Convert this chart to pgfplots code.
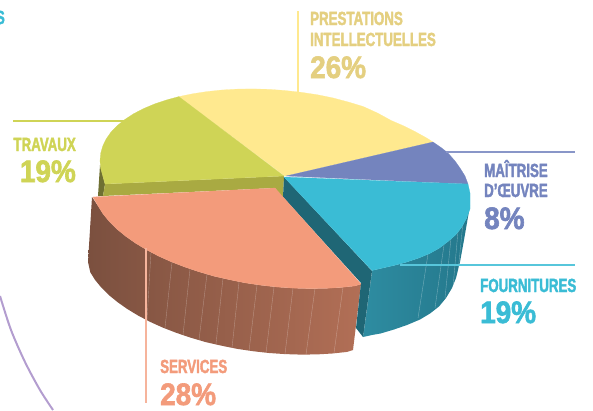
\documentclass[border=0pt]{standalone}
\usepackage{fontspec}
\usepackage{pgfplots}
\pgfplotsset{compat=1.18}
\newfontfamily\labfont[FakeStretch=0.70,FakeBold=2]{Liberation Sans Bold}
\newfontfamily\pctfont[FakeStretch=0.90,FakeBold=2]{Liberation Sans Bold}

\definecolor{cyellow}{HTML}{FFE98F}
\definecolor{cyellowtxt}{HTML}{E4CF80}
\definecolor{cgreen}{HTML}{CFD456}
\definecolor{colive}{HTML}{A9AA42}
\definecolor{colivedk}{HTML}{6F7032}
\definecolor{cblue}{HTML}{7484BE}
\definecolor{ccyan}{HTML}{3ABCD5}
\definecolor{cteal}{HTML}{1F6675}
\definecolor{csalmon}{HTML}{F39B7B}
\definecolor{cpurple}{HTML}{B39DCF}

\newcommand{\lab}[4]{\node[anchor=base #1,text=#2,inner sep=0pt,font=\labfont\fontsize{19}{19}\selectfont] at (axis cs:#3) {#4};}
\newcommand{\pct}[4]{\node[anchor=base #1,text=#2,inner sep=0pt,font=\pctfont\fontsize{31}{31}\selectfont] at (axis cs:#3) {#4};}

\begin{document}
\begin{tikzpicture}
\useasboundingbox (0,0) rectangle (593pt,410pt);
\begin{axis}[
    at={(0,0)}, anchor=south west,
    scale only axis, width=593pt, height=410pt,
    xmin=0, xmax=593, ymin=0, ymax=410,
    y dir=reverse,
    hide axis,
    clip=false,
]
% purple arc of the outer ring
\addplot[cpurple, line width=2pt, smooth] coordinates {(0,296) (11,330) (25,362) (40,390) (53,410)};

% salmon side
\addplot[draw=none, shading=axis, left color={rgb,255:red,123;green,80;blue,63}, middle color={rgb,255:red,142;green,92;blue,72}, right color={rgb,255:red,178;green,111;blue,86}] coordinates {
 (92,197) (88,262) (90.3,272.3) (95.1,280) (101.4,287.6) (108.8,295) (117.5,302.1) (127.3,309) (138.2,315.6)
 (150,321.8) (162.8,327.6) (176.5,332.9) (190.8,337.7) (205.7,342.1) (221.1,345.6) (236.8,348.8) (252.9,351.2)
 (269,353) (285.1,354.1) (301.2,354.6) (316.9,354.4) (332.3,353.5) (347.2,351.9) (353,350)
 (361,284) (355.2,285.9) (340.3,287.5) (324.9,288.4) (309.2,288.6) (293.1,288.1) (277,287) (260.9,285.2)
 (244.8,282.8) (229.1,279.6) (213.7,276.1) (198.8,271.7) (184.5,266.9) (170.8,261.6) (158,255.8) (146.2,249.6)
 (135.3,243) (125.5,236.1) (116.8,229) (109.4,221.6) (103.1,214) (98.3,206.3) (92,197)};
% stripes on salmon side
\addplot[white, opacity=0.3, line width=0.4pt] coordinates {(151,252) (147,320)};
\addplot[white, opacity=0.3, line width=0.4pt] coordinates {(172,262) (165,328)};
\addplot[white, opacity=0.3, line width=0.4pt] coordinates {(190,269) (183,335)};
\addplot[white, opacity=0.3, line width=0.4pt] coordinates {(207,274) (199,340)};
\addplot[white, opacity=0.3, line width=0.4pt] coordinates {(223,278) (216,344)};
\addplot[white, opacity=0.3, line width=0.4pt] coordinates {(239,282) (232,348)};
\addplot[white, opacity=0.3, line width=0.4pt] coordinates {(257,285) (249,351)};
\addplot[white, opacity=0.3, line width=0.4pt] coordinates {(274,287) (266,353)};
\addplot[white, opacity=0.3, line width=0.4pt] coordinates {(293,288) (285,354)};
\addplot[white, opacity=0.3, line width=0.4pt] coordinates {(315,288.5) (306,354.5)};
\addplot[white, opacity=0.3, line width=0.4pt] coordinates {(343,287) (334,353)};

% cyan side
\addplot[draw=none, shading=axis, left color={rgb,255:red,46;green,140;blue,161}, right color={rgb,255:red,36;green,120;blue,140}] coordinates {
 (372,270.5) (363,337) (372,335) (380.5,333.5) (394,329.5) (407,325) (420,319.5) (430,313.5) (439,306.5)
 (446,298) (452,288) (456,278) (460,262) (464,240) (468,217) (470,205)
 (466.5,218.3) (461.4,227.6) (455.6,234.9) (448,241.5) (439.5,248) (429.7,253.5) (418.8,258) (406.9,262)
 (394.2,265.4) (380.5,268.5) (372,270.5)};
\addplot[white, opacity=0.35, line width=0.4pt] coordinates {(428,254) (418,318)};
\addplot[white, opacity=0.35, line width=0.4pt] coordinates {(444,245) (435,308)};
\addplot[white, opacity=0.35, line width=0.4pt] coordinates {(451,238) (445,298)};
\addplot[white, opacity=0.35, line width=0.4pt] coordinates {(458,231) (453,287)};
\addplot[white, opacity=0.35, line width=0.4pt] coordinates {(463,222) (458,272)};
\addplot[white, opacity=0.35, line width=0.4pt] coordinates {(372,271) (363,337)};

% dark inner walls
\addplot[fill=colivedk, draw=none] coordinates {(100,165) (105,184) (103,196) (98,196) (100,165)};
\addplot[fill=colive, draw=none] coordinates {(105,184) (284,176) (283,198) (275,188) (103,196) (105,184)};
\addplot[fill=cteal, draw=none] coordinates {(284,177) (283,197) (361,283) (356,328) (363,337) (372,271) (284,177)};

% top faces
\addplot[fill=cyellow, draw=cyellow, line width=0.2pt] coordinates {
 (285,176) (178.8,96.6) (192.5,93.8) (206.8,91.6) (221.7,90) (237.1,89.1) (252.8,88.9) (268.9,89.3) (285,90.5)
 (301.1,92.3) (317.2,94.7) (332.9,97.9) (348.3,102) (363.2,106.5) (377.5,113) (391.2,120.5) (403.9,126)
 (415.8,132) (426.7,138) (433,142) (285,176)};
\addplot[fill=cgreen, draw=cgreen, line width=0.2pt] coordinates {
 (284,176) (178.8,96.6) (166,100.1) (154.2,104.1) (143.3,108.7) (133.5,113.8) (124.8,119.5) (117.4,125.5)
 (111.1,131.9) (106.3,138.8) (102.8,145.9) (100.7,153.2) (100,160.7) (100.7,168.4) (102.8,176.1) (105,184) (284,176)};
\addplot[fill=cblue, draw=cblue, line width=0.2pt] coordinates {
 (286,176) (433,142) (441,147.5) (448,153) (455,161) (460,168) (465,176) (468,184) (286,176)};
\addplot[fill=ccyan, draw=ccyan, line width=0.2pt] coordinates {
 (284,177) (468,184) (470,193) (470,201) (470,209) (466.5,218.3) (461.4,227.6) (455.6,234.9) (448,241.5)
 (439.5,248) (429.7,253.5) (418.8,258) (406.9,262) (394.2,265.4) (380.5,268.5) (372,270.5) (284,177)};
\addplot[fill=csalmon, draw=csalmon, line width=0.2pt] coordinates {
 (93,197) (275,188) (361,284) (355.2,285.9) (340.3,287.5) (324.9,288.4) (309.2,288.6) (293.1,288.1) (277,287)
 (260.9,285.2) (244.8,282.8) (229.1,279.6) (213.7,276.1) (198.8,271.7) (184.5,266.9) (170.8,261.6) (158,255.8)
 (146.2,249.6) (135.3,243) (125.5,236.1) (116.8,229) (109.4,221.6) (103.1,214) (98.3,206.3) (93,197)};

% leader lines
\addplot[cyellow, line width=1.2pt] coordinates {(298,11) (298,92)};
\addplot[cblue!85!white, line width=1.2pt] coordinates {(446,152) (575,152)};
\addplot[ccyan!85!white, line width=1.2pt] coordinates {(400,265) (575,265)};
\addplot[cgreen, line width=1.2pt] coordinates {(13,121) (125,121)};
\addplot[csalmon!75!white, line width=1.5pt] coordinates {(146,248) (146,403)};

% labels
\lab{west}{cyellowtxt}{310,25}{PRESTATIONS}
\lab{west}{cyellowtxt}{310,46}{INTELLECTUELLES}
\pct{west}{cyellowtxt}{310,78}{26\%}
\lab{west}{cblue}{484,177}{MAÎTRISE}
\lab{west}{cblue}{484,197}{D’ŒUVRE}
\pct{west}{cblue}{484,229}{8\%}
\lab{west}{ccyan}{480,292}{FOURNITURES}
\pct{west}{ccyan}{480,323}{19\%}
\lab{east}{cgreen}{76,151}{TRAVAUX}
\pct{east}{cgreen}{76,182}{19\%}
\lab{west}{csalmon}{160,373}{SERVICES}
\pct{west}{csalmon}{160,405}{28\%}
\lab{east}{ccyan}{5,24}{S}
\end{axis}
\end{tikzpicture}
\end{document}
